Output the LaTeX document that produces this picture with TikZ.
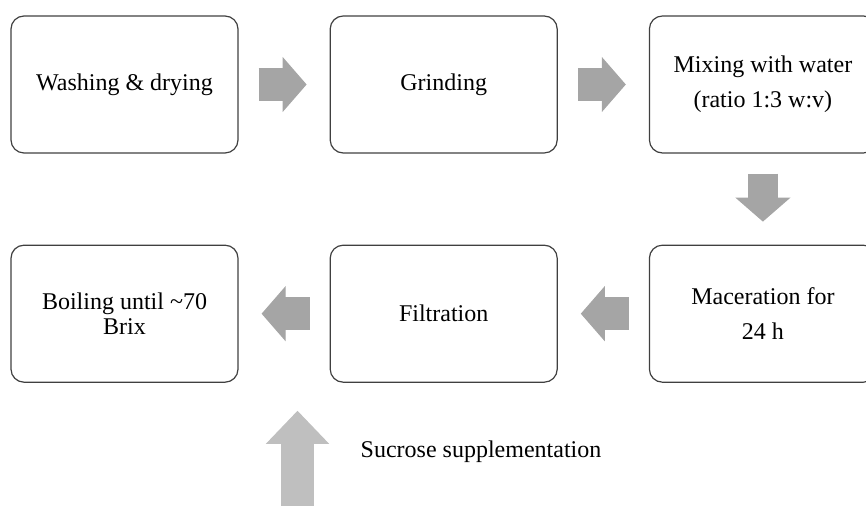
\documentclass[tikz,border=0pt]{standalone}
\usepackage{fontspec}
\setmainfont{Liberation Serif}
\usetikzlibrary{positioning, arrows.meta}
\definecolor{boxline}{HTML}{404040}
\definecolor{arrowgray}{HTML}{A5A5A5}
\definecolor{feedgray}{HTML}{BFBFBF}

\begin{document}
\begin{tikzpicture}[x = 0.5pt, y = 0.5pt,
  stepbox/.style = {draw = boxline, line width = 0.6pt, rounded corners = 6.5pt,
    minimum width = 113.5pt, minimum height = 68.5pt, align = center,
    font = \fontsize{12}{17.5}\selectfont},
  flow/.style = {draw = arrowgray, line width = 16.5pt, shorten <= 10pt, shorten >= 11.5pt,
    -{Triangle[length = 12pt, width = 27.5pt, line width = 0.6pt]}},
  feed/.style = {draw = feedgray, line width = 16.5pt, shorten >= 14pt,
    -{Triangle[length = 16.5pt, width = 31.5pt, line width = 0.6pt]}}]
\useasboundingbox (0,0) rectangle (866,-506);
\node[stepbox] (wash) at (124.5,-84.5) {Washing \& drying};
\node[stepbox, right = 45.5pt of wash] (grind) {Grinding};
\node[stepbox, right = 45.5pt of grind] (mix) {Mixing with water\\(ratio 1:3 w:v)};
\node[stepbox, below = 45.5pt of mix] (macer) {Maceration for\\24 h};
\node[stepbox, left = 45.5pt of macer] (filt) {Filtration};
\node[stepbox, left = 45.5pt of filt, font = \fontsize{12}{12.5}\selectfont] (boil)
  {Boiling until \textasciitilde70\\Brix};
\draw[flow] (wash) -- (grind);
\draw[flow] (grind) -- (mix);
\draw[flow, line width = 15pt] (mix) -- (macer);
\draw[flow] (macer) -- (filt);
\draw[flow] (filt) -- (boil);
\coordinate (feedin) at (297.5,-530);
\draw[feed] (feedin) -- (feedin |- filt.south);
\node[font = \fontsize{12}{14}\selectfont] (sugar) at (481,-452) {Sucrose supplementation};
\end{tikzpicture}
\end{document}
